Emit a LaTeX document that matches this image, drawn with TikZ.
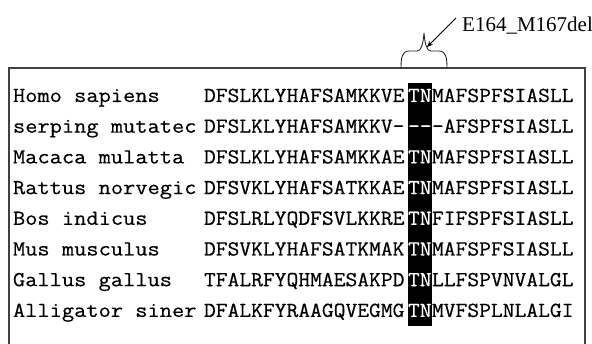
\documentclass[tikz,border=0pt]{standalone}
\usepackage{fontspec}
\setmainfont{Liberation Serif}
\newfontfamily\namefnt{Latin Modern Mono}[FakeStretch=1.11,FakeBold=0.4]
\newfontfamily\seqfnt{Latin Modern Mono}[FakeStretch=1.07,FakeBold=0.6]
\usetikzlibrary{arrows.meta}
\tikzset{
  namelbl/.style={anchor=base west,inner sep=0pt,outer sep=0pt,font=\namefnt\fontsize{21.4}{21.4}\selectfont},
  seqlbl/.style={anchor=base west,inner sep=0pt,outer sep=0pt,font=\seqfnt\fontsize{21.4}{21.4}\selectfont},
  hilbl/.style={seqlbl,text=white},
  boxline/.style={draw=black!75,line width=1.4pt},
  braceline/.style={draw=black!85,line width=0.9pt},
}
\begin{document}
\begin{tikzpicture}[x=1pt,y=-1pt]
\useasboundingbox (0,0) rectangle (592,344);
\fill[white] (0,0) rectangle (592,344);
% frame
\draw[boxline] (9,345) -- (9,68) -- (585,68) -- (585,345);
% highlight column
\fill[black] (408,83) rectangle (432,326);
% rows
\foreach \i/\nm/\pre/\mid/\suf in {
  0/Homo sapiens/DFSLKLYHAFSAMKKVE/TN/MAFSPFSIASLL,
  1/serping mutatec/DFSLKLYHAFSAMKKV-/--/-AFSPFSIASLL,
  2/Macaca mulatta/DFSLKLYHAFSAMKKAE/TN/MAFSPFSIASLL,
  3/Rattus norvegic/DFSVKLYHAFSATKKAE/TN/MAFSPFSIASLL,
  4/Bos indicus/DFSLRLYQDFSVLKKRE/TN/FIFSPFSIASLL,
  5/Mus musculus/DFSVKLYHAFSATKMAK/TN/MAFSPFSIASLL,
  6/Gallus gallus/TFALRFYQHMAESAKPD/TN/LLFSPVNVALGL,
  7/Alligator siner/DFALKFYRAAGQVEGMG/TN/MVFSPLNLALGI}{
  \pgfmathsetmacro{\yb}{102+30.7*\i}
  \node[namelbl] (n\i) at (13,\yb) {\nm};
  \node[seqlbl] (p\i) at (204,\yb) {\pre};
  \node[hilbl] (m\i) at (408,\yb) {\mid};
  \node[seqlbl] (s\i) at (432,\yb) {\suf};
}
% brace
\draw[braceline] (401,68) .. controls (401,58) and (402,51) .. (409,51)
  -- (417,51) .. controls (421,51) and (423,45) .. (424,33)
  .. controls (425,45) and (427,51) .. (431,51)
  -- (439,51) .. controls (446,51) and (447,58) .. (447,68);
% label and arrow
\node[anchor=base west,inner sep=0pt,font=\fontsize{21}{21}\selectfont] (lab) at (462,32) {E164\_M167del};
\coordinate (tip) at (427,47);
\draw[line width=0.9pt,-{Stealth[length=6pt,width=5pt]}] (456,18) -- (tip);
\end{tikzpicture}
\end{document}
